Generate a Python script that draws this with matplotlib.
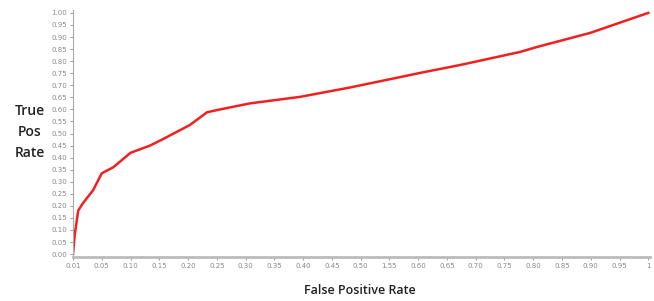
import matplotlib.pyplot as plt

# ROC curve points
fpr = [0.0, 0.003, 0.009, 0.017, 0.035, 0.05, 0.07, 0.10, 0.134, 0.155, 0.175,
       0.203, 0.22, 0.233, 0.256, 0.308, 0.395, 0.48, 0.569, 0.603, 0.673,
       0.777, 0.807, 0.899, 1.0]
tpr = [0.0, 0.08, 0.18, 0.21, 0.265, 0.335, 0.36, 0.42, 0.45, 0.475, 0.50,
       0.535, 0.565, 0.588, 0.60, 0.625, 0.652, 0.69, 0.734, 0.751, 0.784,
       0.838, 0.859, 0.917, 1.0]

x_ticks = [i * 0.05 for i in range(21)]
x_labels = ['0.01', '0.05', '0.10', '0.15', '0.20', '0.25', '0.30', '0.35', '0.40',
            '0.45', '0.50', '1.55', '0.60', '0.65', '0.70', '0.75', '0.80', '0.85',
            '0.90', '0.95', '1']
y_ticks = [i * 0.05 for i in range(21)]
y_labels = ['%.2f' % v for v in y_ticks]

fig = plt.figure(figsize=(6.54, 3.01), dpi=100)
ax = fig.add_axes([73 / 654, 1 - 257 / 301, 577 / 654, 247 / 301])

ax.plot(fpr, tpr, color='#f02020', linewidth=1.8)

ax.set_xlim(0, 1.003)
ax.set_ylim(-0.012, 1.012)
ax.set_xticks(x_ticks)
ax.set_xticklabels(x_labels)
ax.set_yticks(y_ticks)
ax.set_yticklabels(y_labels)
ax.tick_params(labelsize=5, colors='#888888', length=2, width=0.6, pad=2)

for s in ['top', 'right']:
    ax.spines[s].set_visible(False)
ax.spines['left'].set_color('#aaaaaa')
ax.spines['bottom'].set_color('#bbbbbb')
ax.spines['bottom'].set_linewidth(2)

fig.text(30 / 654, 1 - 132 / 301, 'True\nPos\nRate', ha='center', va='center',
         fontsize=10, family='Open Sans', weight='semibold', color='#222222',
         linespacing=1.6)
fig.text(360 / 654, 1 - 291 / 301, 'False Positive Rate', ha='center', va='center',
         fontsize=9, family='Open Sans', weight='semibold', color='#222222')

fig.savefig('out.png', dpi=100)
